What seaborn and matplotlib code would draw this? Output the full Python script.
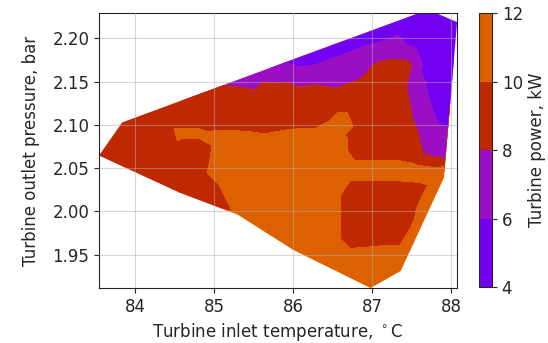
import numpy as np
import matplotlib
matplotlib.use("Agg")
import matplotlib.pyplot as plt
import matplotlib.tri as mtri
from matplotlib.colors import ListedColormap, BoundaryNorm
from matplotlib.patches import Polygon
import seaborn as sns

# Measured operating points: inlet temperature (degC), outlet pressure (bar), power (kW)
temp = [83.546, 83.839, 84.309, 84.817, 85.135, 85.325, 85.707, 86.088, 86.850, 87.358,
        87.587, 87.803, 88.070, 88.057, 87.981, 87.955, 87.930, 87.917, 87.905, 87.905,
        87.638, 87.358, 86.977, 85.999, 85.300, 84.563,
        84.055, 84.309, 84.182, 84.436, 84.690, 85.008, 84.753, 84.817, 85.198,
        84.563, 84.817,
        85.198, 85.135, 85.325, 85.643, 85.580, 86.088, 86.088, 86.088, 85.580, 86.469,
        86.660, 86.532, 86.469, 86.469, 86.723, 87.104, 87.358,
        86.723, 87.104, 87.485, 87.739,
        85.516, 85.643, 86.088, 86.088, 86.469, 86.698, 86.876, 86.850, 86.825, 87.167,
        87.511, 87.676, 87.104, 87.193, 87.422, 87.358, 87.422,
        86.723, 87.104, 87.485, 86.723, 86.723, 87.104, 87.333, 87.422,
        85.516, 86.088, 86.469, 86.850, 87.003, 87.295, 87.511, 87.587, 87.714, 87.765,
        87.587, 87.714, 87.841, 87.942]
pressure = [2.0646, 2.1029, 2.1180, 2.1354, 2.1458, 2.1528, 2.1655, 2.1783, 2.2038, 2.2212,
            2.2293, 2.2293, 2.2189, 2.2038, 2.1284, 2.0971, 2.0704, 2.0611, 2.0472, 2.0391,
            1.9869, 1.9312, 1.9115, 1.9556, 1.9962, 2.0217,
            2.0820, 2.1029, 2.0472, 2.0588, 2.0414, 2.0124, 2.0704, 2.1168, 2.1052,
            2.0890, 2.0890,
            2.0820, 2.0472, 2.0124, 2.0762, 2.0356, 2.0843, 2.0530, 2.0124, 1.9892, 2.0843,
            2.1029, 2.0704, 2.0124, 1.9660, 1.9428, 1.9451, 1.9451,
            2.0484, 2.0484, 2.0472, 2.0449,
            2.1319, 2.1029, 2.1319, 2.1075, 2.1261, 2.1261, 2.1331, 2.0936, 2.0704, 2.0704,
            2.0646, 2.0588, 2.1052, 2.1655, 2.1655, 2.1284, 2.0936,
            2.0240, 2.0240, 2.0217, 1.9985, 1.9718, 1.9753, 1.9753, 1.9950,
            2.1493, 2.1562, 2.1609, 2.1748, 2.1806, 2.1864, 2.1574, 2.1226, 2.0936, 2.0704,
            2.1980, 2.1690, 2.1400, 2.1110]
power = [9, 9, 9, 9, 8, 7, 7, 5, 5, 5,
         5, 5, 5, 5, 5, 6, 7, 8, 11, 11,
         11, 11, 11, 11, 10.3, 9,
         9, 9, 9, 9, 9, 9, 9, 9, 9,
         10.3, 10.3,
         11, 11, 11, 11, 11, 11, 11, 11, 11, 11,
         11, 11, 11, 11, 11, 11, 11,
         11, 11, 11, 11,
         9, 9, 9, 9, 9, 9, 9, 9, 9, 9,
         9, 9, 9, 9, 9, 9, 9,
         9, 9, 9, 9, 9, 9, 9, 9,
         7, 7, 7, 7, 7, 7, 7, 7, 7, 7,
         5, 5, 5, 5]

# Boundary of the measured operating region
hull_temp = [83.546, 83.839, 87.587, 87.803, 88.070, 88.057, 87.905, 87.358, 86.977,
             85.999, 85.300, 84.563]
hull_pressure = [2.0646, 2.1029, 2.2293, 2.2293, 2.2189, 2.2038, 2.0391, 1.9312, 1.9115,
                 1.9556, 1.9962, 2.0217]

levels = [4, 6, 8, 10, 12]
level_colors = ['#7200f2', '#9b0fc4', '#bf2800', '#dd6100']

sns.set_style("ticks")
plt.rcParams['font.family'] = ['DejaVu Sans']

x = np.array(temp)
y = np.array(pressure)
z = np.array(power)

fig = plt.figure(figsize=(5.48, 3.43), dpi=100)
ax = fig.add_axes([0.1807, 0.1603, 0.6533, 0.8017])
cax = fig.add_axes([0.874, 0.1632, 0.0237, 0.7988])

# Delaunay on screen-proportional coordinates, then use real coordinates
xs = (x - x.min()) / (x.max() - x.min()) * 358
ys = (y - y.min()) / (y.max() - y.min()) * 275
tri0 = mtri.Triangulation(xs, ys)
tri = mtri.Triangulation(x, y, tri0.triangles)

cmap = ListedColormap(level_colors)
norm = BoundaryNorm(levels, cmap.N)
cs = ax.tricontourf(tri, z, levels=levels, cmap=cmap, norm=norm)
clip = Polygon(np.column_stack([hull_temp, hull_pressure]), closed=True,
               transform=ax.transData, facecolor='none', edgecolor='none')
ax.add_patch(clip)
cs.set_clip_path(clip)

ax.set_xlim(min(hull_temp), max(hull_temp))
ax.set_ylim(min(hull_pressure), max(hull_pressure))
ax.set_xticks([84, 85, 86, 87, 88])
ax.set_yticks([1.95, 2.00, 2.05, 2.10, 2.15, 2.20])
ax.grid(True, color='#b0b0b0', alpha=0.5, linewidth=0.8)
ax.set_axisbelow(False)
ax.tick_params(labelsize=12)
ax.set_xlabel(r'Turbine inlet temperature, $^\circ$C', fontsize=12, labelpad=4)
ax.set_ylabel('Turbine outlet pressure, bar', fontsize=12, labelpad=9)

cb = fig.colorbar(cs, cax=cax, ticks=levels)
cb.set_label('Turbine power, kW', fontsize=12)
cb.ax.tick_params(labelsize=12)

fig.savefig('out.png', dpi=100)
